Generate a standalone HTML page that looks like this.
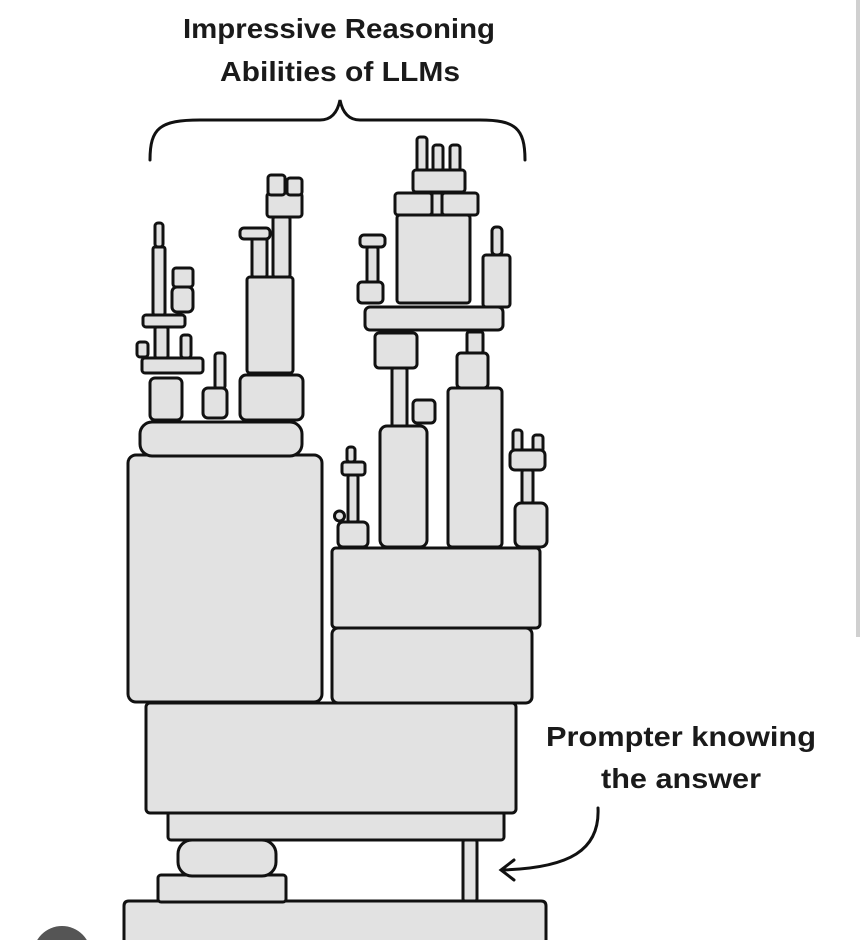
<!DOCTYPE html>
<html><head><meta charset="utf-8"><style>
html,body{margin:0;padding:0;background:#fff;width:864px;height:940px;overflow:hidden;}
svg{display:block;}
</style></head><body>
<svg width="864" height="940" viewBox="0 0 864 940" xmlns="http://www.w3.org/2000/svg">
<rect x="856" y="0" width="4" height="637" fill="#d0d0d0"/>
<g font-family="Liberation Sans, DejaVu Sans, sans-serif" font-weight="bold" font-size="28" fill="#1a1a1a">
<text x="183" y="38" textLength="312" lengthAdjust="spacingAndGlyphs">Impressive Reasoning</text>
<text x="220" y="81" textLength="240" lengthAdjust="spacingAndGlyphs">Abilities of LLMs</text>
<text x="546" y="746" textLength="270" lengthAdjust="spacingAndGlyphs">Prompter knowing</text>
<text x="601" y="788" textLength="160" lengthAdjust="spacingAndGlyphs">the answer</text>
</g>
<g fill="none" stroke="#111" stroke-width="3" stroke-linecap="round">
<path d="M150,160 C150,128 160,120 200,120 L320,120 C333,120 338,110 340,100 C342,110 347,120 360,120 L480,120 C515,120 525,128 525,160"/>
<path d="M598,808 C600,850 570,868 502,870"/>
<path d="M514,860 L501,870 L514,880"/>
</g>
<g fill="#e2e2e2" stroke="#111" stroke-width="3" stroke-linejoin="round">
<path d="M124,940 L124,906 Q124,901 129,901 L541,901 Q546,901 546,906 L546,940"/>
<rect x="158" y="875" width="128" height="27" rx="3"/>
<rect x="178" y="840" width="98" height="36" rx="14"/>
<rect x="463" y="840" width="14" height="61" rx="2"/>
<rect x="168" y="812" width="336" height="28" rx="3"/>
<rect x="146" y="703" width="370" height="110" rx="4"/>
<rect x="128" y="455" width="194" height="247" rx="8"/>
<rect x="332" y="628" width="200" height="75" rx="6"/>
<rect x="332" y="548" width="208" height="80" rx="4"/>
<rect x="140" y="422" width="162" height="34" rx="12"/>
<rect x="150" y="378" width="32" height="42" rx="5"/>
<rect x="142" y="358" width="61" height="15" rx="3"/>
<rect x="137" y="342" width="11" height="15" rx="3"/>
<rect x="155" y="327" width="13" height="31" rx="2"/>
<rect x="181" y="335" width="10" height="23" rx="3"/>
<rect x="143" y="315" width="42" height="12" rx="3"/>
<rect x="153" y="247" width="12" height="68" rx="2"/>
<rect x="155" y="223" width="8" height="24" rx="3"/>
<rect x="173" y="268" width="20" height="19" rx="3"/>
<rect x="172" y="287" width="21" height="25" rx="5"/>
<rect x="215" y="353" width="10" height="36" rx="3"/>
<rect x="203" y="388" width="24" height="30" rx="5"/>
<rect x="240" y="375" width="63" height="45" rx="6"/>
<rect x="247" y="277" width="46" height="96" rx="3"/>
<rect x="252" y="238" width="15" height="39" rx="2"/>
<rect x="240" y="228" width="30" height="11" rx="4"/>
<rect x="273" y="217" width="17" height="60" rx="2"/>
<rect x="267" y="193" width="35" height="24" rx="3"/>
<rect x="268" y="175" width="17" height="20" rx="3"/>
<rect x="287" y="178" width="15" height="17" rx="3"/>
<rect x="417" y="137" width="10" height="34" rx="3"/>
<rect x="433" y="145" width="10" height="26" rx="3"/>
<rect x="450" y="145" width="10" height="26" rx="3"/>
<rect x="413" y="170" width="52" height="22" rx="3"/>
<rect x="432" y="193" width="10" height="22" rx="1"/>
<rect x="395" y="193" width="37" height="22" rx="3"/>
<rect x="442" y="193" width="36" height="22" rx="3"/>
<rect x="397" y="215" width="73" height="88" rx="3"/>
<rect x="492" y="227" width="10" height="28" rx="4"/>
<rect x="483" y="255" width="27" height="52" rx="3"/>
<rect x="360" y="235" width="25" height="12" rx="4"/>
<rect x="367" y="247" width="11" height="36" rx="2"/>
<rect x="358" y="282" width="25" height="21" rx="4"/>
<rect x="365" y="307" width="138" height="23" rx="5"/>
<rect x="375" y="333" width="42" height="35" rx="4"/>
<rect x="392" y="368" width="15" height="59" rx="2"/>
<rect x="413" y="400" width="22" height="23" rx="4"/>
<rect x="380" y="426" width="47" height="121" rx="7"/>
<rect x="467" y="332" width="16" height="21" rx="2"/>
<rect x="457" y="353" width="31" height="35" rx="4"/>
<rect x="448" y="388" width="54" height="159" rx="4"/>
<rect x="347" y="447" width="8" height="15" rx="3"/>
<rect x="342" y="462" width="23" height="13" rx="3"/>
<rect x="348" y="475" width="10" height="47" rx="2"/>
<circle cx="339.5" cy="516" r="5"/>
<rect x="338" y="522" width="30" height="25" rx="5"/>
<rect x="513" y="430" width="9" height="22" rx="3"/>
<rect x="533" y="435" width="10" height="17" rx="3"/>
<rect x="510" y="450" width="35" height="20" rx="5"/>
<rect x="522" y="470" width="11" height="33" rx="2"/>
<rect x="515" y="503" width="32" height="44" rx="6"/>
</g>
<circle cx="62" cy="955" r="29" fill="#555"/>
</svg>
</body></html>
